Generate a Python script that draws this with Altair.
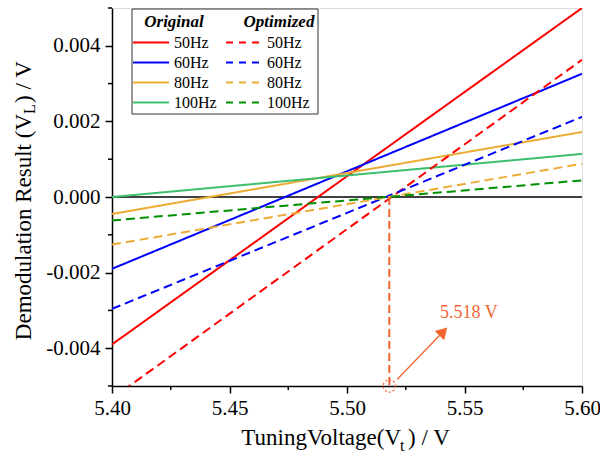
import altair as alt
import pandas as pd

FONT = "Liberation Serif"

# ---- data ----
voltage = [5.40, 5.60]
freqs = ["50Hz", "60Hz", "80Hz", "100Hz"]

orig_50hz = [-0.0039, 0.0050]
orig_60hz = [-0.0019, 0.00326]
orig_80hz = [-0.00045, 0.00172]
orig_100hz = [0.0000, 0.00114]

opt_50hz = [-0.00533, 0.00363]
opt_60hz = [-0.00296, 0.00212]
opt_80hz = [-0.00126, 0.00088]
opt_100hz = [-0.00062, 0.00044]

colors_orig = ["#ff0000", "#0000ff", "#ecab33", "#3dbf6e"]
colors_opt = ["#ff0000", "#0000ff", "#ecab33", "#009000"]

x_ticks = [5.40, 5.45, 5.50, 5.55, 5.60]
x_minor = [5.425, 5.475, 5.525, 5.575]
y_ticks = [-0.004, -0.002, 0.0, 0.002, 0.004]
y_minor = [-0.005, -0.003, -0.001, 0.001, 0.003, 0.005]

crossing_voltage = 5.518
annot_color = "#f26531"

# ---- build long table ----
rows = []
orig_vals = [orig_50hz, orig_60hz, orig_80hz, orig_100hz]
opt_vals = [opt_50hz, opt_60hz, opt_80hz, opt_100hz]
series_names, series_colors = [], []
for kind, vals_list, cols in [("Original", orig_vals, colors_orig), ("Optimized", opt_vals, colors_opt)]:
    for f, vals, c in zip(freqs, vals_list, cols):
        name = f"{kind} {f}"
        series_names.append(name)
        series_colors.append(c)
        for v, y in zip(voltage, vals):
            rows.append({"voltage": v, "value": y, "series": name, "kind": kind})
df = pd.DataFrame(rows)

xaxis = alt.Axis(
    values=x_ticks, title=None, grid=False,
    domainColor="black", domainWidth=1.5, tickColor="black", tickWidth=1.5, tickSize=7,
    labelExpr="format(datum.value, '.2f')",
    labelFont=FONT, labelFontSize=21, labelColor="black", labelPadding=4,
    labelOverlap=False, labelFlush=False,
)
yaxis = alt.Axis(
    values=y_ticks, title=None, grid=False,
    domainColor="black", domainWidth=1.5, tickColor="black", tickWidth=1.5, tickSize=7,
    labelExpr="(datum.value < 0 ? '-' : '') + format(abs(datum.value), '.3f')",
    labelFont=FONT, labelFontSize=21, labelColor="black", labelPadding=5,
    labelOverlap=False, labelFlush=False,
)

xscale = alt.Scale(domain=[5.40, 5.60], nice=False, zero=False)
yscale = alt.Scale(domain=[-0.005, 0.005], nice=False, zero=False)

zero_line = alt.Chart(pd.DataFrame({"value": [0.0]})).mark_rule(
    color="black", strokeWidth=1.5
).encode(y=alt.Y("value:Q", scale=yscale, axis=yaxis))

lines = alt.Chart(df).mark_line(strokeWidth=2, clip=True).encode(
    x=alt.X("voltage:Q", scale=xscale, axis=xaxis),
    y=alt.Y("value:Q", scale=yscale, axis=yaxis),
    color=alt.Color("series:N", scale=alt.Scale(domain=series_names, range=series_colors), legend=None),
    strokeDash=alt.StrokeDash("kind:N", scale=alt.Scale(domain=["Original", "Optimized"], range=[[1, 0], [9, 5]]), legend=None),
    detail="series:N",
)

# minor ticks
minor_xt = alt.Chart(pd.DataFrame({"voltage": x_minor})).mark_rule(color="black", strokeWidth=1.5).encode(
    x=alt.X("voltage:Q", title=None), y=alt.value(378), y2=alt.value(382))
minor_yt = alt.Chart(pd.DataFrame({"value": y_minor})).mark_rule(color="black", strokeWidth=1.5).encode(
    y=alt.Y("value:Q", title=None), x=alt.value(-4), x2=alt.value(0))

# ---- annotation ----
vline = alt.Chart(pd.DataFrame({"voltage": [crossing_voltage], "value": [0.0], "value2": [-0.005]})).mark_rule(
    color=annot_color, strokeWidth=2, strokeDash=[8, 4]
).encode(x=alt.X("voltage:Q", title=None), y=alt.Y("value:Q", title=None), y2="value2:Q")

circle = alt.Chart(pd.DataFrame({"voltage": [crossing_voltage], "value": [-0.005]})).mark_point(
    shape="circle", size=150, filled=False, color=annot_color, strokeWidth=1.2, strokeDash=[2, 2], opacity=1
).encode(x=alt.X("voltage:Q", title=None), y=alt.Y("value:Q", title=None))

arrow_tail = [5.5213, -0.00483]
arrow_head = [5.5410, -0.00356]
arrow = alt.Chart(pd.DataFrame({"voltage": [arrow_tail[0]], "value": [arrow_tail[1]],
                                "voltage2": [arrow_head[0]], "value2": [arrow_head[1]]})).mark_rule(
    color=annot_color, strokeWidth=1.3
).encode(x=alt.X("voltage:Q", title=None), y=alt.Y("value:Q", title=None), x2="voltage2:Q", y2="value2:Q")

head = alt.Chart(pd.DataFrame({"voltage": [arrow_head[0]], "value": [arrow_head[1]]})).mark_point(
    shape="triangle-up", size=170, filled=True, color=annot_color, angle=44, opacity=1
).encode(x=alt.X("voltage:Q", title=None), y=alt.Y("value:Q", title=None))

label = alt.Chart(pd.DataFrame({"voltage": [5.5396], "value": [-0.00306], "text": ["5.518 V"]})).mark_text(
    align="left", baseline="middle", font=FONT, fontSize=18, color=annot_color
).encode(x=alt.X("voltage:Q", title=None), y=alt.Y("value:Q", title=None), text="text:N")

# ---- helper for pixel-placed decorations ----
one = pd.DataFrame({"a": [1]})


def ptext(text, x, y, size, **kw):
    return alt.Chart(one).mark_text(text=text, font=FONT, fontSize=size, color="black", **kw).encode(
        x=alt.value(x), y=alt.value(y))


def prule(x1, x2, y, color, dash):
    return alt.Chart(one).mark_rule(color=color, strokeWidth=2, strokeDash=dash).encode(
        x=alt.value(x1), x2=alt.value(x2), y=alt.value(y))


deco = []
# legend box
deco.append(alt.Chart(one).mark_rect(fill="white", stroke="#333333", strokeWidth=1).encode(
    x=alt.value(20), x2=alt.value(206), y=alt.value(1), y2=alt.value(106)))
deco.append(ptext("Original", 62, 14, 17, align="center", baseline="middle", fontStyle="italic", fontWeight="bold"))
deco.append(ptext("Optimized", 167, 14, 17, align="center", baseline="middle", fontStyle="italic", fontWeight="bold"))
row_y = [34.5, 54.5, 74.5, 94.5]
for f, yy, c1, c2 in zip(freqs, row_y, colors_orig, colors_opt):
    deco.append(prule(21, 57, yy, c1, [1, 0]))
    deco.append(ptext(f, 62, yy, 16, align="left", baseline="middle"))
    deco.append(prule(114, 151, yy, c2, [7, 6]))
    deco.append(ptext(f, 155, yy, 16, align="left", baseline="middle"))

# y axis title with subscript
deco.append(ptext("Demodulation Result (V", -88, 106, 23, align="right", baseline="middle", angle=270))
deco.append(ptext("L", -82, 106, 16, align="left", baseline="middle", angle=270))
deco.append(ptext(") / V", -88, 95, 23, align="left", baseline="middle", angle=270))

# x axis title with subscript
deco.append(ptext("TuningVoltage(V", 289, 437, 23, align="right", baseline="alphabetic"))
deco.append(ptext("t", 288, 443, 16, align="left", baseline="alphabetic"))
deco.append(ptext(") / V", 296, 437, 23, align="left", baseline="alphabetic"))

chart = alt.layer(zero_line, lines, minor_xt, minor_yt, vline, arrow, head, circle, label, *deco).properties(
    width=470, height=378,
    autosize=alt.AutoSizeParams(type="none"),
    padding={"left": 112, "top": 8, "right": 18, "bottom": 71},
).configure_view(stroke=None).configure(background="white")

chart.save("out.html", embed_options={"renderer": "svg", "actions": False})
